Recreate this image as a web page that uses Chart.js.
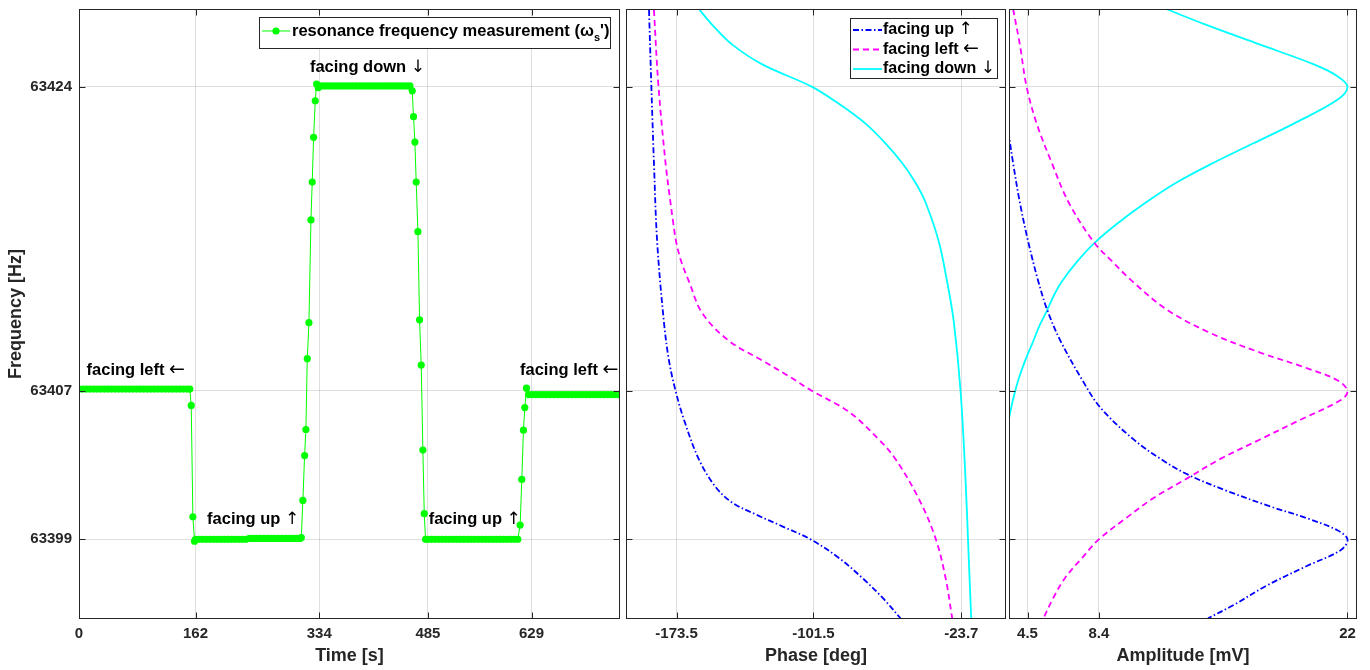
<!DOCTYPE html>
<html>
<head>
<meta charset="utf-8">
<script src="https://cdn.jsdelivr.net/npm/chart.js@4.4.1/dist/chart.umd.min.js"></script>
<style>
  html, body { margin: 0; padding: 0; background: #fff; }
  #wrap { position: relative; width: 1370px; height: 670px; }
  canvas { position: absolute; top: 0; }
</style>
</head>
<body>
<div id="wrap">
  <canvas id="timeChart" width="624" height="670" style="left:0px"></canvas>
  <canvas id="phaseChart" width="384" height="670" style="left:624px"></canvas>
  <canvas id="ampChart" width="362" height="670" style="left:1008px"></canvas>
</div>
<script>
// ---- data ----
const timeTicks = [0, 162, 334, 485, 629];
const freqTicks = [63399, 63407.2, 63424];
const freqTickLabels = ['63399', '63407', '63424'];
const phaseTicks = [-173.5, -101.5, -23.7];
const ampTicks = [4.5, 8.4, 22];

// measured resonance frequency vs time
const measTime = [
  0, 5, 10, 15, 20, 25, 30, 35, 40, 45, 50, 55, 60, 65, 70, 75, 80, 85, 90, 95,
  100, 105, 110, 115, 120, 125, 130, 135, 140, 145, 150, 154,
  156, 158.3, 160.6,
  162, 167, 172, 177, 182, 187, 192, 197, 202, 207, 212, 217, 222, 227, 232,
  237, 242, 247, 252, 257, 262, 267, 272, 277, 282, 287, 292, 297, 302, 307, 309,
  311.2, 313.6, 315.4, 317.3, 319.6, 322.4, 324.2, 326.1, 328.4, 330.3, 332.5,
  335, 340, 345, 350, 355, 360, 365, 370, 375, 380, 385, 390, 395, 400, 405,
  410, 415, 420, 425, 430, 435, 440, 445, 450, 455, 460,
  463.2, 465.0, 466.9, 468.7, 471.1, 473.4, 475.7, 478.0, 479.9, 481.7,
  485, 490, 495, 500, 505, 510, 515, 520, 525, 530, 535, 540, 545, 550, 555,
  560, 565, 570, 575, 580, 585, 590, 595, 600, 605, 610,
  613.2, 615.5, 617.8, 619.7, 622.0,
  625, 630, 635, 640, 645, 650, 655, 660, 665, 670, 675, 680, 685, 690, 695,
  700, 705, 710, 715, 720, 725, 730, 735, 740, 745, 750, 755
];
const measFreq = [
  63407.3, 63407.3, 63407.3, 63407.3, 63407.3, 63407.3, 63407.3, 63407.3, 63407.3, 63407.3,
  63407.3, 63407.3, 63407.3, 63407.3, 63407.3, 63407.3, 63407.3, 63407.3, 63407.3, 63407.3,
  63407.3, 63407.3, 63407.3, 63407.3, 63407.3, 63407.3, 63407.3, 63407.3, 63407.3, 63407.3,
  63407.3, 63407.3,
  63406.4, 63400.25, 63398.9,
  63399.0, 63399.0, 63399.0, 63399.0, 63399.0, 63399.0, 63399.0, 63399.0, 63399.0, 63399.0,
  63399.0, 63399.0, 63399.0, 63399.0, 63399.0, 63399.05, 63399.05, 63399.05, 63399.05, 63399.05,
  63399.05, 63399.05, 63399.05, 63399.05, 63399.05, 63399.05, 63399.05, 63399.05, 63399.05, 63399.05,
  63399.1,
  63401.15, 63403.63, 63405.07, 63408.98, 63410.97, 63416.65, 63418.74, 63421.21, 63423.23, 63424.15, 63423.95,
  63424.05, 63424.05, 63424.05, 63424.05, 63424.05, 63424.05, 63424.05, 63424.05, 63424.05, 63424.05,
  63424.05, 63424.05, 63424.05, 63424.05, 63424.05, 63424.05, 63424.05, 63424.05, 63424.05, 63424.05,
  63424.05, 63424.05, 63424.05, 63424.05, 63424.05, 63424.05,
  63423.78, 63422.35, 63420.95, 63418.74, 63416.0, 63411.13, 63408.63, 63403.93, 63400.42, 63399.0,
  63399.0, 63399.0, 63399.0, 63399.0, 63399.0, 63399.0, 63399.0, 63399.0, 63399.0, 63399.0,
  63399.0, 63399.0, 63399.0, 63399.0, 63399.0, 63399.0, 63399.0, 63399.0, 63399.0, 63399.0,
  63399.0, 63399.0, 63399.0, 63399.0, 63399.0, 63399.0,
  63399.79, 63402.31, 63405.03, 63406.28, 63407.35,
  63407.0, 63407.0, 63407.0, 63407.0, 63407.0, 63407.0, 63407.0, 63407.0, 63407.0, 63407.0,
  63407.0, 63407.0, 63407.0, 63407.0, 63407.0, 63407.0, 63407.0, 63407.0, 63407.0, 63407.0,
  63407.0, 63407.0, 63407.0, 63407.0, 63407.0, 63407.0, 63407.0
];

// phase curves (frequency in Hz, phase in deg)
const upPhaseFreq = [63428.25, 63424.15, 63419.79, 63415.43, 63411.06, 63408.88, 63407.2, 63405.61,
  63403.43, 63401.9, 63401.03, 63400.38, 63399.72, 63399.0, 63397.97, 63396.88, 63395.79, 63394.64];
const upPhase = [-188.0, -186.8, -185.4, -183.7, -180.2, -177.5, -174.0, -169.6,
  -161.8, -153.0, -144.2, -131.9, -117.9, -103.0, -88.1, -75.9, -65.3, -55.7];
const leftPhaseFreq = [63428.25, 63424.15, 63419.79, 63417.61, 63416.52, 63415.43, 63414.34, 63413.25,
  63411.5, 63409.97, 63408.88, 63408.01, 63407.2, 63406.05, 63404.52, 63403.43, 63401.25,
  63399.07, 63396.88, 63394.64];
const leftPhase = [-185.4, -183.1, -179.3, -176.7, -175.3, -173.7, -171.0, -167.0,
  -160.0, -146.0, -128.4, -114.4, -102.2, -82.9, -67.1, -58.3, -46.1,
  -37.3, -32.0, -28.5];
const downPhaseFreq = [63428.25, 63427.42, 63426.33, 63425.24, 63424.0, 63423.06, 63421.97, 63420.88,
  63419.79, 63418.7, 63417.61, 63415.43, 63413.25, 63411.06, 63407.2, 63402.34, 63397.97, 63394.64];
const downPhase = [-161.4, -154.7, -144.2, -128.4, -102.2, -88.1, -74.1, -63.6,
  -54.8, -47.8, -42.5, -35.5, -31.2, -27.7, -24.1, -21.5, -19.8, -18.5];

// amplitude curves (frequency in Hz, amplitude in mV)
const upAmpFreq = [63421.53, 63419.79, 63417.61, 63415.43, 63413.25, 63411.61, 63409.97, 63407.79,
  63406.26, 63404.52, 63403.43, 63402.56, 63401.68, 63400.81, 63400.16, 63399.5, 63399.0,
  63398.41, 63397.54, 63396.45, 63395.36, 63394.64];
const upAmp = [3.45, 3.71, 4.08, 4.54, 5.09, 5.6, 6.3, 7.5,
  8.5, 10.3, 11.8, 13.3, 15.4, 17.8, 19.8, 21.45, 22.0,
  21.64, 19.80, 17.59, 15.75, 14.37];
const leftAmpFreq = [63428.3, 63426.33, 63424.0, 63421.97, 63419.79, 63417.61, 63415.43, 63414.34,
  63413.25, 63411.72, 63410.41, 63409.32, 63408.45, 63407.79, 63407.2, 63406.7, 63405.61,
  63404.52, 63403.43, 63402.34, 63401.25, 63400.16, 63399.0, 63397.97, 63396.88, 63395.79, 63394.64];
const leftAmp = [3.71, 4.08, 4.45, 5.00, 5.83, 6.75, 8.12, 9.14,
  10.24, 12.08, 14.47, 17.22, 19.80, 21.45, 22.0, 21.64, 19.43,
  17.22, 15.02, 13.18, 11.34, 9.87, 8.40, 7.48, 6.56, 5.92, 5.37];
const downAmpFreq = [63428.3, 63427.42, 63426.33, 63425.24, 63424.59, 63424.0, 63423.28, 63421.97,
  63420.88, 63419.79, 63418.7, 63417.61, 63416.52, 63415.43, 63414.34, 63413.25, 63412.5,
  63411.61, 63410.8, 63409.97, 63408.9, 63407.79, 63406.7, 63405.5];
const downAmp = [12.08, 14.28, 17.22, 20.16, 21.45, 22.0, 21.45, 19.06,
  16.86, 14.65, 12.63, 10.97, 9.50, 8.22, 7.21, 6.38, 5.95,
  5.55, 5.15, 4.82, 4.38, 3.99, 3.70, 3.45];

const annotations = [
  { text: 'facing left ', arrow: '\u2190', t: 10.5, f: 63408.35 },
  { text: 'facing up ', arrow: '\u2191', t: 178, f: 63400.1 },
  { text: 'facing down ', arrow: '\u2193', t: 321, f: 63425.05 },
  { text: 'facing up ', arrow: '\u2191', t: 486, f: 63400.1 },
  { text: 'facing left ', arrow: '\u2190', t: 613, f: 63408.35 }
];

// ---- styling ----
const ink = '#262626';
const gridColor = 'rgba(38,38,38,0.15)';
const fam = "'Liberation Sans', Arial, Helvetica, sans-serif";
const tickFont = { family: fam, size: 15, weight: 'bold' };
const titleFont = { family: fam, size: 18, weight: 'bold' };
const noteText = "bold 16.5px " + fam;
const legendText = "bold 16px " + fam;
const arrowFont = a => (a === '\u2190' ? "19px" : "17px") + " 'DejaVu Sans', sans-serif";
const freqMin = 63394.6, freqMax = 63428.3;

const upStyle = { borderColor: '#0000ff', borderDash: [6, 2.5, 1.5, 2.5] };
const leftStyle = { borderColor: '#ff00ff', borderDash: [6, 4] };
const downStyle = { borderColor: '#00ffff', borderDash: [] };

function pairs(xs, ys) { return xs.map((v, i) => ({ x: v, y: ys[i] })); }
function fixedTicks(values) { return s => { s.ticks = values.map(v => ({ value: v })); }; }
function noPad(s) { s.paddingLeft = 0; s.paddingRight = 0; s.paddingTop = 0; s.paddingBottom = 0; }

function xAxis(min, max, ticks, title) {
  return {
    type: 'linear', min: min, max: max,
    afterBuildTicks: fixedTicks(ticks),
    afterFit: s => { s.height = 51; noPad(s); },
    grid: { color: gridColor, drawTicks: false },
    border: { display: false },
    ticks: { font: tickFont, color: ink, padding: 6, maxRotation: 0, autoSkip: false,
      callback: (v, i) => String(ticks[i]) },
    title: { display: true, text: title, font: titleFont, color: ink, padding: { top: 0, bottom: 3 } }
  };
}
function yAxis(showLabels) {
  const ax = {
    type: 'linear', min: freqMin, max: freqMax,
    afterBuildTicks: fixedTicks(freqTicks),
    afterFit: s => { s.width = showLabels ? 79 : 0; noPad(s); },
    grid: { color: gridColor, drawTicks: false },
    border: { display: false },
    ticks: { display: showLabels, font: tickFont, color: ink, padding: 7, autoSkip: false,
      callback: (v, i) => freqTickLabels[i] }
  };
  if (showLabels) {
    ax.title = { display: true, text: 'Frequency [Hz]', font: titleFont, color: ink, padding: { top: 5, bottom: 0 } };
  }
  return ax;
}

// box with inward ticks, MATLAB style
const frame = {
  id: 'frame',
  afterDraw(chart) {
    const { ctx, chartArea: a, scales } = chart;
    const L = Math.round(a.left) + 0.5, R = Math.round(a.right) - 0.5;
    const T = Math.round(a.top) + 0.5, B = Math.round(a.bottom) - 0.5;
    ctx.save();
    ctx.strokeStyle = ink;
    ctx.lineWidth = 1;
    ctx.beginPath();
    scales.x.ticks.forEach(t => {
      const p = Math.round(scales.x.getPixelForValue(t.value)) + 0.5;
      ctx.moveTo(p, B); ctx.lineTo(p, B - 6);
      ctx.moveTo(p, T); ctx.lineTo(p, T + 6);
    });
    scales.y.ticks.forEach(t => {
      const p = Math.round(scales.y.getPixelForValue(t.value)) + 0.5;
      ctx.moveTo(L, p); ctx.lineTo(L + 6, p);
      ctx.moveTo(R, p); ctx.lineTo(R - 6, p);
    });
    ctx.stroke();
    ctx.strokeRect(L, T, R - L, B - T);
    ctx.restore();
  }
};

const timeOverlay = {
  id: 'timeOverlay',
  afterDraw(chart) {
    const { ctx, chartArea: a, scales: { x, y } } = chart;
    ctx.save();
    ctx.textBaseline = 'middle';
    ctx.textAlign = 'left';
    ctx.fillStyle = '#000';
    annotations.forEach(n => {
      const px = x.getPixelForValue(n.t), py = y.getPixelForValue(n.f);
      ctx.font = noteText;
      ctx.fillText(n.text, px, py);
      const w = ctx.measureText(n.text).width;
      ctx.font = arrowFont(n.arrow);
      ctx.fillText(n.arrow, px + w, py);
    });
    // legend
    const part1 = 'resonance frequency measurement (\u03c9';
    const subFont = "bold 11px " + fam;
    ctx.font = noteText;
    const w1 = ctx.measureText(part1).width;
    const w3 = ctx.measureText("')").width;
    ctx.font = subFont;
    const w2 = ctx.measureText('s').width;
    const right = Math.round(a.right) - 10, top = Math.round(a.top) + 8, h = 31;
    const left = Math.round(right - (33 + w1 + w2 + w3 + 1));
    ctx.fillStyle = '#fff';
    ctx.fillRect(left, top, right - left, h);
    ctx.strokeStyle = ink;
    ctx.lineWidth = 1;
    ctx.strokeRect(left + 0.5, top + 0.5, right - left, h);
    const cy = top + 14;
    ctx.strokeStyle = '#00ff00';
    ctx.beginPath(); ctx.moveTo(left + 3, cy); ctx.lineTo(left + 31, cy); ctx.stroke();
    ctx.fillStyle = '#00ff00';
    ctx.beginPath(); ctx.arc(left + 17, cy, 3.6, 0, Math.PI * 2); ctx.fill();
    ctx.fillStyle = '#000';
    let tx = left + 33;
    ctx.font = noteText; ctx.fillText(part1, tx, cy); tx += w1;
    ctx.font = subFont; ctx.fillText('s', tx, cy + 7); tx += w2;
    ctx.font = noteText; ctx.fillText("')", tx, cy);
    ctx.restore();
  }
};

const phaseOverlay = {
  id: 'phaseOverlay',
  afterDraw(chart) {
    const { ctx, chartArea: a } = chart;
    const rows = [
      { text: 'facing up ', arrow: '\u2191', st: upStyle },
      { text: 'facing left ', arrow: '\u2190', st: leftStyle },
      { text: 'facing down ', arrow: '\u2193', st: downStyle }
    ];
    ctx.save();
    let maxW = 0;
    rows.forEach(r => {
      ctx.font = legendText; const a1 = ctx.measureText(r.text).width;
      ctx.font = arrowFont(r.arrow); const a2 = ctx.measureText(r.arrow).width;
      r.w = a1; maxW = Math.max(maxW, a1 + a2);
    });
    const right = Math.round(a.right) - 9, top = Math.round(a.top) + 9, h = 60;
    const left = Math.round(right - (33 + maxW + 2));
    ctx.fillStyle = '#fff';
    ctx.fillRect(left, top, right - left, h);
    ctx.strokeStyle = ink; ctx.lineWidth = 1;
    ctx.strokeRect(left + 0.5, top + 0.5, right - left, h);
    ctx.textBaseline = 'middle'; ctx.textAlign = 'left';
    rows.forEach((r, i) => {
      const cy = top + 12 + i * 19.5;
      ctx.strokeStyle = r.st.borderColor; ctx.lineWidth = 1.8;
      ctx.setLineDash(r.st.borderDash);
      ctx.beginPath(); ctx.moveTo(left + 3, cy); ctx.lineTo(left + 32, cy); ctx.stroke();
      ctx.setLineDash([]);
      ctx.fillStyle = '#000';
      ctx.font = legendText; ctx.fillText(r.text, left + 33, cy);
      ctx.font = arrowFont(r.arrow); ctx.fillText(r.arrow, left + 33 + r.w, cy);
    });
    ctx.restore();
  }
};

function curve(label, xs, ys, st) {
  return Object.assign({
    label: label, data: pairs(xs, ys), showLine: true, pointRadius: 0, borderWidth: 1.8,
    tension: 0.35, fill: false
  }, st);
}

const common = {
  responsive: false, animation: false, events: [],
  plugins: { legend: { display: false }, tooltip: { enabled: false } },
  elements: { line: { capBezierPoints: false } }
};

new Chart(document.getElementById('timeChart'), {
  type: 'scatter',
  data: { datasets: [{
    label: "resonance frequency measurement",
    data: pairs(measTime, measFreq), showLine: true,
    borderColor: '#00ff00', borderWidth: 1, pointRadius: 3.6, pointBorderWidth: 0,
    pointBackgroundColor: '#00ff00'
  }] },
  options: Object.assign({}, common, {
    layout: { padding: { left: 0, right: 2, top: 9, bottom: 0 } },
    scales: { x: xAxis(0, 752, timeTicks, 'Time [s]'), y: yAxis(true) }
  }),
  plugins: [frame, timeOverlay]
});

new Chart(document.getElementById('phaseChart'), {
  type: 'scatter',
  data: { datasets: [
    curve('facing up', upPhase, upPhaseFreq, upStyle),
    curve('facing left', leftPhase, leftPhaseFreq, leftStyle),
    curve('facing down', downPhase, downPhaseFreq, downStyle)
  ] },
  options: Object.assign({}, common, {
    layout: { padding: { left: 2, right: 2, top: 9, bottom: 0 } },
    scales: { x: xAxis(-200.1, -0.2, phaseTicks, 'Phase [deg]'), y: yAxis(false) }
  }),
  plugins: [frame, phaseOverlay]
});

new Chart(document.getElementById('ampChart'), {
  type: 'scatter',
  data: { datasets: [
    curve('facing up', upAmp, upAmpFreq, upStyle),
    curve('facing left', leftAmp, leftAmpFreq, leftStyle),
    curve('facing down', downAmp, downAmpFreq, downStyle)
  ] },
  options: Object.assign({}, common, {
    layout: { padding: { left: 1, right: 13, top: 9, bottom: 0 } },
    scales: { x: xAxis(3.486, 22.52, ampTicks, 'Amplitude [mV]'), y: yAxis(false) }
  }),
  plugins: [frame]
});
</script>
</body>
</html>
